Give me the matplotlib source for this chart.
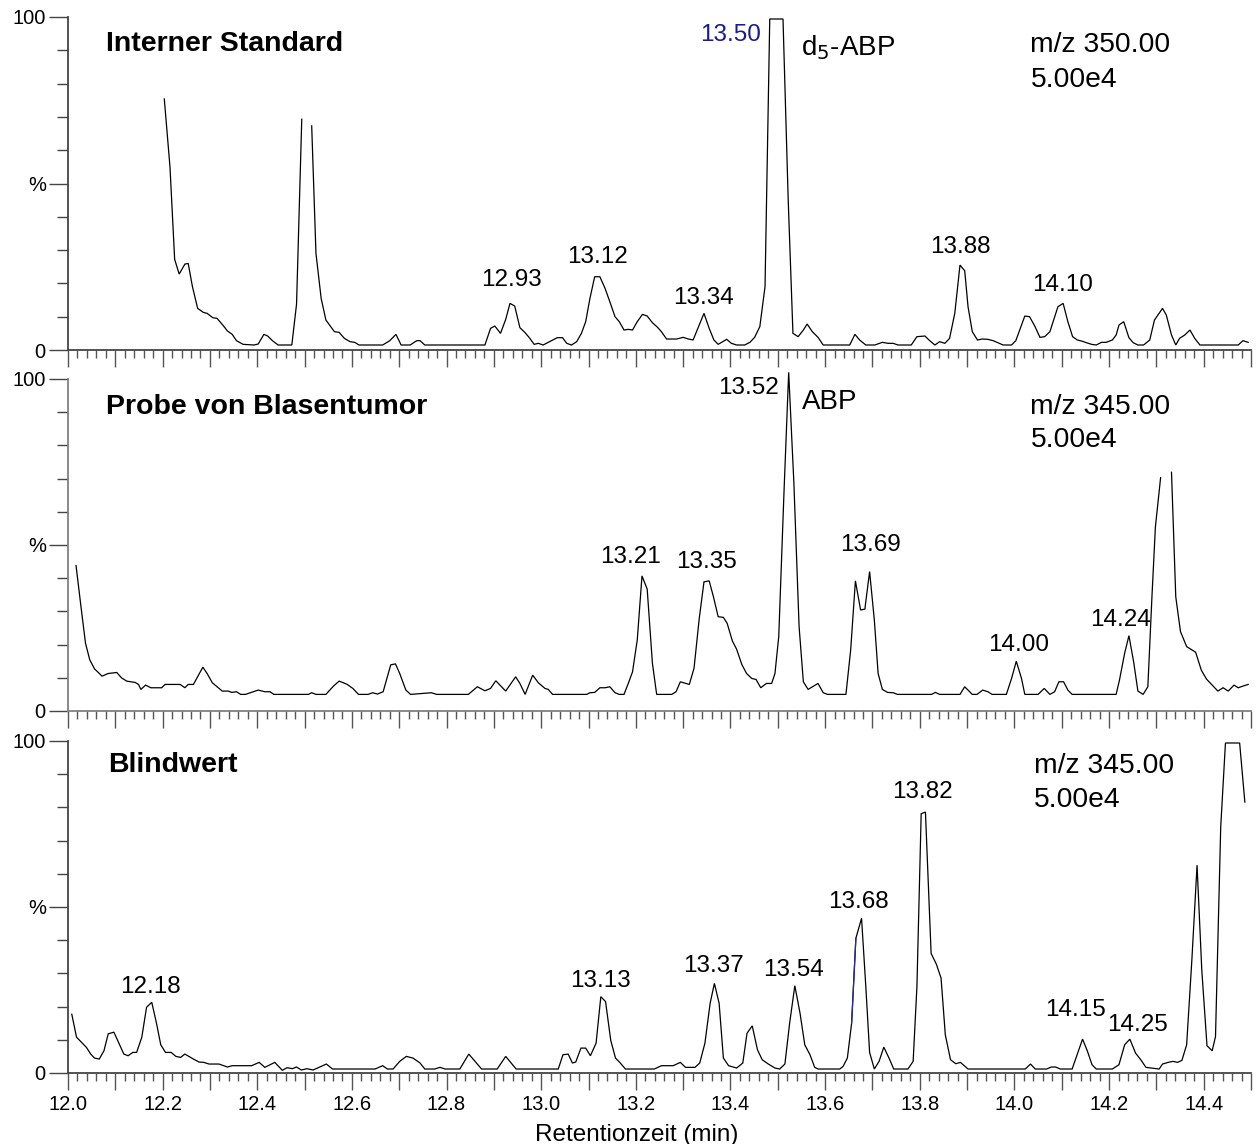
import numpy as np
import matplotlib
matplotlib.use("Agg")
import matplotlib.pyplot as plt
from matplotlib.ticker import MultipleLocator, FuncFormatter

plt.rcParams['font.family'] = ['Liberation Sans', 'DejaVu Sans']
nan = np.nan

# ---------------- data: Interner Standard (m/z 350) ----------------
is_t = [12.2035, 12.2155, 12.2254, 12.235, 12.247, 12.254, 12.263, 12.274, 12.286, 12.294,
        12.306, 12.315, 12.327, 12.337, 12.347, 12.356, 12.370, 12.393, 12.402, 12.414,
        12.422, 12.432, 12.444, 12.473, 12.483, 12.494, 12.505, 12.515, 12.524, 12.535,
        12.545, 12.563, 12.573, 12.584, 12.596, 12.606, 12.615, 12.665, 12.680, 12.693,
        12.704, 12.723, 12.737, 12.744, 12.754, 12.881, 12.893, 12.902, 12.914, 12.925,
        12.934, 12.944, 12.955, 12.966, 12.976, 12.985, 12.994, 13.004, 13.022, 13.034,
        13.045, 13.054, 13.064, 13.075, 13.085, 13.094, 13.103, 13.113, 13.124, 13.135,
        13.145, 13.156, 13.165, 13.175, 13.184, 13.193, 13.203, 13.214, 13.224, 13.235,
        13.246, 13.254, 13.265, 13.286, 13.300, 13.311, 13.321, 13.334, 13.344, 13.355,
        13.365, 13.374, 13.392, 13.402, 13.413, 13.430, 13.441, 13.451, 13.462, 13.473,
        13.483, 13.511, 13.522, 13.532, 13.543, 13.554, 13.562, 13.573, 13.585, 13.596,
        13.652, 13.663, 13.673, 13.686, 13.705, 13.721, 13.733, 13.744, 13.754, 13.782,
        13.794, 13.811, 13.821, 13.832, 13.842, 13.853, 13.863, 13.874, 13.885, 13.895,
        13.902, 13.911, 13.922, 13.932, 13.944, 13.955, 13.965, 13.976, 13.994, 14.003,
        14.022, 14.032, 14.043, 14.054, 14.064, 14.075, 14.092, 14.103, 14.113, 14.123,
        14.133, 14.142, 14.152, 14.163, 14.173, 14.184, 14.194, 14.207, 14.215, 14.221,
        14.231, 14.242, 14.251, 14.261, 14.273, 14.286, 14.296, 14.313, 14.321, 14.332,
        14.341, 14.349, 14.360, 14.371, 14.381, 14.392, 14.473, 14.483, 14.494]
is_y = [75.4, 55.0, 27.2, 22.8, 25.8, 26.0, 19.0, 12.5, 11.3, 11.0,
        9.7, 9.5, 7.5, 5.7, 4.7, 2.8, 1.7, 1.5, 1.8, 4.7,
        4.2, 2.8, 1.5, 1.5, 13.8, 69.3, nan, 67.3, 29.0, 15.5,
        9.0, 5.5, 5.3, 3.5, 2.5, 2.3, 1.5, 1.5, 2.8, 4.7,
        1.5, 1.5, 2.8, 2.8, 1.5, 1.5, 6.5, 7.2, 5.0, 9.2,
        14.0, 13.2, 6.7, 5.2, 3.5, 1.7, 2.0, 1.5, 2.8, 3.7,
        3.7, 2.0, 1.5, 2.5, 5.0, 8.5, 15.5, 22.0, 22.0, 18.5,
        14.5, 10.0, 8.5, 6.0, 6.2, 6.0, 8.5, 10.7, 10.2, 8.2,
        6.8, 5.5, 3.3, 3.3, 3.8, 3.3, 3.0, 7.5, 11.0, 6.5,
        3.0, 1.7, 3.2, 2.0, 1.5, 1.5, 2.3, 3.8, 7.0, 19.0,
        99.4, 99.4, 45.0, 5.0, 4.0, 6.0, 7.8, 5.5, 3.8, 1.5,
        1.5, 4.7, 3.0, 1.5, 1.5, 2.3, 2.0, 2.0, 1.5, 1.5,
        4.0, 4.2, 2.8, 1.5, 2.5, 2.0, 3.5, 11.0, 25.5, 23.8,
        13.0, 5.5, 3.0, 3.3, 3.2, 2.8, 2.2, 1.5, 1.5, 2.8,
        10.2, 10.0, 7.2, 3.8, 4.0, 5.5, 13.0, 14.0, 8.5, 4.0,
        3.0, 2.7, 2.2, 1.7, 1.5, 2.3, 2.3, 3.0, 4.5, 7.5,
        8.5, 3.7, 2.2, 1.5, 1.5, 3.0, 9.0, 12.5, 10.5, 4.5,
        1.5, 3.5, 4.5, 6.0, 3.5, 1.5, 1.5, 2.8, 2.3]

# ---------------- data: Probe von Blasentumor (m/z 345) ----------------
pb_t = [12.017, 12.027, 12.037, 12.046, 12.056, 12.072, 12.085, 12.103, 12.113, 12.124,
        12.142, 12.149, 12.154, 12.164, 12.175, 12.198, 12.205, 12.237, 12.247, 12.254,
        12.265, 12.285, 12.294, 12.305, 12.326, 12.339, 12.346, 12.356, 12.365, 12.375,
        12.402, 12.416, 12.427, 12.435, 12.508, 12.515, 12.524, 12.545, 12.561, 12.573,
        12.589, 12.602, 12.614, 12.634, 12.644, 12.654, 12.666, 12.682, 12.692, 12.701,
        12.714, 12.724, 12.768, 12.779, 12.846, 12.865, 12.881, 12.893, 12.904, 12.925,
        12.946, 12.955, 12.966, 12.982, 12.994, 13.008, 13.015, 13.024, 13.096, 13.103,
        13.113, 13.124, 13.135, 13.145, 13.156, 13.165, 13.175, 13.184, 13.193, 13.203,
        13.213, 13.224, 13.235, 13.244, 13.276, 13.285, 13.294, 13.313, 13.323, 13.334,
        13.344, 13.355, 13.364, 13.374, 13.385, 13.393, 13.404, 13.413, 13.424, 13.434,
        13.445, 13.454, 13.464, 13.476, 13.487, 13.494, 13.502, 13.513, 13.523, 13.534,
        13.545, 13.554, 13.564, 13.585, 13.596, 13.605, 13.644, 13.654, 13.664, 13.675,
        13.684, 13.694, 13.704, 13.712, 13.721, 13.732, 13.744, 13.753, 13.825, 13.833,
        13.842, 13.885, 13.895, 13.911, 13.921, 13.933, 13.944, 13.953, 13.983, 13.994,
        14.004, 14.015, 14.022, 14.050, 14.063, 14.075, 14.085, 14.094, 14.104, 14.113,
        14.122, 14.215, 14.222, 14.233, 14.242, 14.252, 14.261, 14.272, 14.282, 14.291,
        14.298, 14.309, 14.320, 14.332, 14.341, 14.351, 14.364, 14.383, 14.395, 14.406,
        14.420, 14.430, 14.441, 14.452, 14.464, 14.473, 14.483, 14.494]
pb_y = [43.8, 31.9, 20.4, 15.4, 12.7, 10.5, 11.3, 11.6, 10.0, 9.0,
        8.6, 8.0, 6.5, 7.8, 7.0, 7.0, 8.0, 8.0, 7.0, 8.0,
        8.0, 13.2, 11.3, 8.5, 6.0, 6.0, 5.6, 5.8, 5.0, 5.0,
        6.3, 5.8, 5.8, 5.0, 5.0, 5.5, 5.0, 5.0, 7.5, 9.0,
        8.1, 6.8, 5.0, 5.0, 5.5, 5.1, 5.8, 13.9, 14.2, 11.3,
        6.3, 5.0, 5.5, 5.0, 5.0, 7.3, 6.1, 6.8, 9.1, 6.0,
        10.3, 8.3, 5.0, 10.8, 8.5, 6.8, 6.5, 5.0, 5.0, 5.5,
        5.6, 7.0, 7.0, 7.3, 5.5, 5.0, 5.0, 8.3, 11.8, 21.4,
        40.7, 36.7, 14.4, 5.0, 5.0, 5.8, 8.8, 8.0, 12.9, 27.9,
        38.9, 39.2, 34.4, 28.4, 28.2, 26.4, 21.1, 18.6, 14.0, 11.3,
        9.8, 9.5, 7.0, 8.3, 8.3, 11.3, 22.4, 65.6, 102.0, 68.6,
        25.4, 8.8, 6.5, 8.3, 5.5, 5.0, 5.0, 18.4, 39.2, 30.4,
        30.7, 42.0, 27.4, 11.3, 6.5, 5.6, 5.5, 5.0, 5.0, 5.6,
        5.0, 5.0, 7.3, 5.0, 5.0, 6.3, 5.8, 5.0, 5.0, 9.8,
        15.0, 9.8, 5.0, 5.0, 6.8, 5.0, 5.8, 8.8, 8.8, 6.3,
        5.0, 5.0, 9.3, 17.4, 22.7, 14.8, 6.0, 5.0, 7.3, 35.4,
        55.5, 70.3, nan, 71.9, 34.4, 23.9, 19.4, 17.7, 12.3, 9.6,
        7.5, 6.0, 7.0, 6.0, 7.8, 7.0, 7.5, 8.0]

# ---------------- data: Blindwert (m/z 345) ----------------
bw_t = [12.008, 12.018, 12.029, 12.039, 12.048, 12.056, 12.066, 12.076, 12.085, 12.097,
        12.106, 12.118, 12.127, 12.137, 12.145, 12.156, 12.166, 12.177, 12.187, 12.196,
        12.206, 12.218, 12.228, 12.238, 12.247, 12.265, 12.277, 12.287, 12.298, 12.319,
        12.337, 12.347, 12.388, 12.404, 12.416, 12.437, 12.453, 12.463, 12.474, 12.483,
        12.493, 12.505, 12.518, 12.546, 12.559, 12.649, 12.665, 12.675, 12.687, 12.701,
        12.715, 12.729, 12.744, 12.754, 12.775, 12.786, 12.797, 12.828, 12.847, 12.874,
        12.907, 12.925, 12.947, 13.036, 13.046, 13.057, 13.066, 13.073, 13.084, 13.094,
        13.104, 13.116, 13.126, 13.136, 13.147, 13.157, 13.166, 13.178, 13.239, 13.254,
        13.279, 13.294, 13.305, 13.325, 13.335, 13.346, 13.357, 13.366, 13.376, 13.385,
        13.396, 13.413, 13.426, 13.435, 13.446, 13.457, 13.467, 13.480, 13.494, 13.504,
        13.515, 13.525, 13.536, 13.547, 13.557, 13.568, 13.578, 13.585, 13.631, 13.638,
        13.647, 13.656, 13.665, 13.677, 13.686, 13.694, 13.704, 13.714, 13.724, 13.735,
        13.745, 13.775, 13.786, 13.794, 13.803, 13.812, 13.824, 13.835, 13.845, 13.854,
        13.865, 13.876, 13.886, 13.902, 14.023, 14.034, 14.044, 14.068, 14.078, 14.087,
        14.097, 14.122, 14.133, 14.144, 14.154, 14.164, 14.173, 14.207, 14.221, 14.233,
        14.244, 14.256, 14.267, 14.278, 14.306, 14.313, 14.325, 14.335, 14.345, 14.354,
        14.364, 14.375, 14.386, 14.396, 14.407, 14.418, 14.425, 14.436, 14.446, 14.476,
        14.487]
bw_y = [17.7, 10.8, 9.2, 7.7, 5.7, 4.5, 4.2, 6.7, 11.8, 12.3,
        9.5, 5.7, 5.2, 6.2, 6.2, 10.8, 19.8, 21.3, 15.0, 8.5,
        6.2, 6.2, 5.0, 4.7, 5.7, 4.2, 3.3, 3.2, 2.7, 2.7,
        1.8, 2.2, 2.2, 3.2, 1.7, 3.2, 0.8, 1.6, 1.3, 1.8,
        0.9, 1.3, 0.9, 2.7, 1.2, 1.2, 2.2, 1.2, 1.2, 3.5,
        5.0, 4.5, 3.0, 1.2, 1.2, 1.7, 1.2, 1.2, 5.7, 1.2,
        1.2, 5.0, 1.2, 1.2, 5.5, 5.7, 3.0, 3.3, 7.5, 7.5,
        5.2, 9.0, 23.0, 21.5, 9.8, 4.5, 3.2, 1.2, 1.2, 2.2,
        2.2, 3.2, 1.7, 1.7, 3.0, 9.0, 21.0, 27.0, 21.0, 4.5,
        2.2, 1.5, 3.0, 12.0, 14.2, 7.0, 4.0, 2.7, 1.5, 1.2,
        2.7, 15.0, 26.3, 18.0, 8.5, 5.5, 1.7, 1.2, 1.2, 2.0,
        4.5, 15.0, 40.6, 46.6, 26.0, 6.2, 1.2, 3.5, 7.8, 4.5,
        1.2, 1.2, 3.5, 26.0, 78.1, 78.6, 36.0, 32.8, 28.6, 11.5,
        4.0, 2.8, 3.2, 1.2, 1.2, 2.7, 1.2, 1.2, 1.8, 1.8,
        1.2, 1.2, 5.7, 10.2, 6.7, 2.5, 1.2, 1.2, 2.5, 8.5,
        10.2, 6.0, 4.0, 1.7, 1.2, 2.7, 3.2, 3.5, 3.2, 3.8,
        8.5, 34.0, 62.6, 31.0, 8.2, 6.7, 11.0, 74.1, 99.4, 99.4,
        81.6]

panel_titles = ["Interner Standard", "Probe von Blasentumor", "Blindwert"]
panel_mz = ["m/z 350.00", "m/z 345.00", "m/z 345.00"]
panel_scale = ["5.00e4", "5.00e4", "5.00e4"]

# peak labels: (text, x, y)
labels_is = [("12.93", 12.937, 21.0), ("13.12", 13.118, 28.0), ("13.34", 13.342, 15.7),
             ("13.88", 13.885, 31.0), ("14.10", 14.102, 19.5)]
labels_pb = [("13.21", 13.189, 46.5), ("13.35", 13.349, 45.0), ("13.69", 13.695, 50.0),
             ("14.00", 14.008, 19.9), ("14.24", 14.225, 27.4)]
labels_bw = [("12.18", 12.175, 26.0), ("13.13", 13.126, 27.7), ("13.37", 13.365, 32.3),
             ("13.54", 13.534, 31.0), ("13.68", 13.671, 51.5), ("13.82", 13.806, 84.6),
             ("14.15", 14.130, 19.0), ("14.25", 14.261, 14.5)]

W, H = 1258, 1144
fig = plt.figure(figsize=(W / 100, H / 100), dpi=100)

left = 68 / W
right = 1251 / W
panels_px = [(17, 350), (379, 711), (741, 1073)]
spine_cols = ['#444444', '#808080', '#444444']

series = [(is_t, is_y), (pb_t, pb_y), (bw_t, bw_y)]
label_sets = [labels_is, labels_pb, labels_bw]
axes = []
for i, (top_px, bot_px) in enumerate(panels_px):
    ax = fig.add_axes([left, 1 - bot_px / H, right - left, (bot_px - top_px) / H])
    axes.append(ax)
    t, y = series[i]
    ax.plot(t, y, color='black', lw=0.9, clip_on=False, solid_joinstyle='miter')
    ax.set_xlim(12.0, 14.5)
    ax.set_ylim(0, 100)
    for s in ['top', 'right']:
        ax.spines[s].set_visible(False)
    for s in ['left', 'bottom']:
        ax.spines[s].set_color(spine_cols[i])
        ax.spines[s].set_linewidth(1.3)
    ax.set_yticks([0, 50, 100])
    ax.set_yticklabels(['0', '%', '100'])
    ax.yaxis.set_minor_locator(MultipleLocator(10))
    ax.tick_params(axis='y', which='major', length=14, width=1.0, color='#444444',
                   labelsize=14.5, pad=2)
    ax.tick_params(axis='y', which='minor', length=8, width=1.0, color='#444444')
    ax.xaxis.set_major_locator(MultipleLocator(0.1))
    ax.xaxis.set_minor_locator(MultipleLocator(0.02))
    ax.tick_params(axis='x', which='major', length=12, width=1.0, color='#555555',
                   labelsize=14.5, pad=4)
    ax.tick_params(axis='x', which='minor', length=6, width=1.0, color='#555555')
    if i < 2:
        ax.tick_params(axis='x', labelbottom=False)
    else:
        ax.xaxis.set_major_formatter(FuncFormatter(
            lambda v, p: f"{v:.1f}" if int(round(v * 10)) % 2 == 0 else ""))
        ax.set_xlabel("Retentionzeit (min)", fontsize=17.5, labelpad=0)
        ax.xaxis.set_label_coords(0.4806, -0.155)
    ax.patch.set_alpha(0)

    for txt, lx, ly in label_sets[i]:
        ax.text(lx, ly, txt, fontsize=17.5, ha='center', va='center')

# titles and m/z info
title_pos = [(12.080, 92.0), (12.080, 91.7), (12.085, 92.7)]
mz_pos = [(14.034, 91.6, 81.1), (14.034, 91.7, 81.6), (14.041, 92.5, 82.2)]
for i, ax in enumerate(axes):
    ax.text(title_pos[i][0], title_pos[i][1], panel_titles[i], fontsize=20.5,
            fontweight='bold', ha='left', va='center')
    ax.text(mz_pos[i][0], mz_pos[i][1], panel_mz[i], fontsize=20.3, ha='left', va='center')
    ax.text(mz_pos[i][0], mz_pos[i][2], panel_scale[i], fontsize=20.3, ha='left', va='center')

# compound annotations
axes[0].text(13.4636, 94.6, "13.50", fontsize=17.5, color='#1a1a8c', ha='right', va='center')
axes[0].text(13.550, 90.7, "d$_5$-ABP", fontsize=20, ha='left', va='center')
axes[1].text(13.502, 97.2, "13.52", fontsize=17.5, ha='right', va='center')
axes[1].text(13.550, 93.2, "ABP", fontsize=20, ha='left', va='center')

# blue highlighted segment in Blindwert trace
i0 = bw_t.index(13.656)
axes[2].plot(bw_t[i0:i0 + 2], bw_y[i0:i0 + 2], color='#2a2aa0', lw=0.9)

fig.savefig("out.png", dpi=100)
